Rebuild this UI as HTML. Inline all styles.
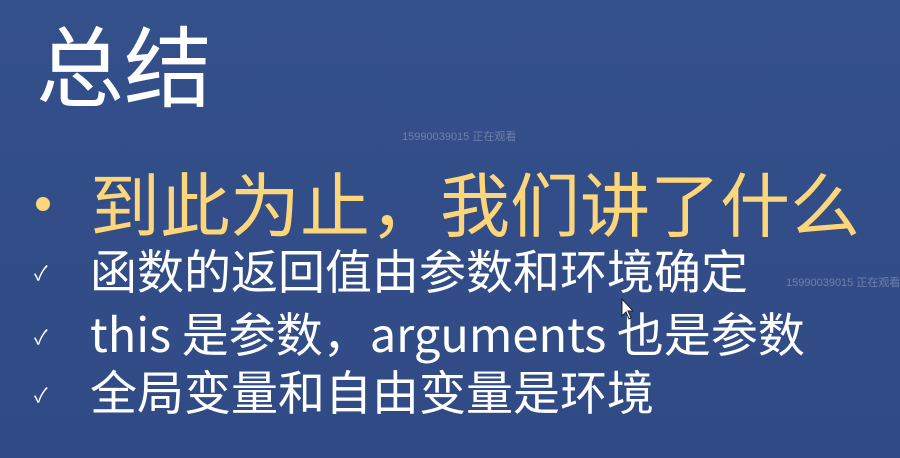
<!DOCTYPE html>
<html><head><meta charset="utf-8"><style>
html,body{margin:0;padding:0}
body{width:900px;height:458px;overflow:hidden;background:linear-gradient(180deg,#34508b 0%,#304a85 100%);position:relative;font-family:"Liberation Sans","Noto Sans CJK SC",sans-serif}
.t{position:absolute;white-space:nowrap;line-height:1;font-family:"Noto Sans CJK SC","Liberation Sans",sans-serif}
.wm{position:absolute;color:rgba(160,170,200,0.55);font-size:11px;white-space:nowrap}
</style></head><body>
<div class="t" style="left:36px;top:19px;font-size:88px;color:#fff">总结</div>
<div class="wm" style="left:402px;top:128px">15990039015 正在观看</div>
<div class="wm" style="left:786px;top:274px">15990039015 正在观看</div>
<div style="position:absolute;left:36px;top:197px;width:14px;height:14px;border-radius:50%;background:#fdd67a"></div>
<div class="t" style="left:90px;top:167px;font-size:70px;color:#fdd67a">到此为止，我们讲了什么</div>
<div class="t" style="left:34px;top:262px;font-size:20px;color:#fff">✓</div>
<div class="t" style="left:90px;top:245px;font-size:47px;color:#fff">函数的返回值由参数和环境确定</div>
<div class="t" style="left:34px;top:326px;font-size:20px;color:#fff">✓</div>
<div class="t" style="left:90px;top:308px;font-size:47px;color:#fff">this 是参数，arguments 也是参数</div>
<div class="t" style="left:34px;top:384px;font-size:20px;color:#fff">✓</div>
<div class="t" style="left:90px;top:366px;font-size:47px;color:#fff">全局变量和自由变量是环境</div>
<svg style="position:absolute;left:621px;top:298px" width="14" height="22"><path d="M1 1 L1 18 L5 14 L8 21 L10 20 L7 13 L12 13 Z" fill="#fff" stroke="#222" stroke-width="1"/></svg>
</body></html>
